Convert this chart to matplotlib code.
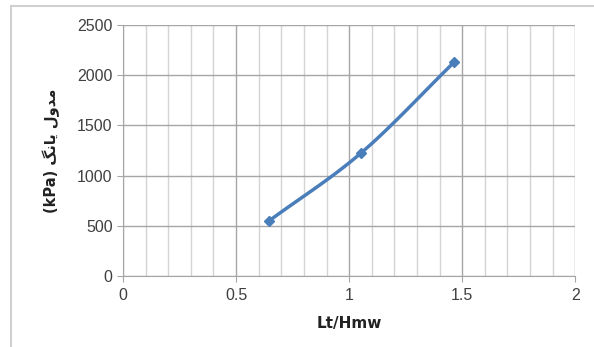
import numpy as np
import matplotlib.pyplot as plt
from matplotlib.lines import Line2D
from matplotlib.ticker import MultipleLocator

# ratio Lt/Hmw vs Young's modulus (kPa)
ratio = [0.646, 1.053, 1.465]
modulus = [548, 1225, 2131]

# Persian label written in presentation forms, visual order (no shaping in mpl)
word_modulus = "\uFEDD\uFEED\uFEAA\uFEE3"   # مدول
word_young = "\uFB93\uFEE7\uFE8E\uFBFE"     # یانگ
ylabel = "(kPa) " + word_young + " " + word_modulus


def smooth_curve(x, y, n=40):
    # Catmull-Rom style smoothing, like a spreadsheet "smoothed line"
    x = np.asarray(x, float)
    y = np.asarray(y, float)
    px = np.concatenate([[2 * x[0] - x[1]], x, [2 * x[-1] - x[-2]]])
    py = np.concatenate([[2 * y[0] - y[1]], y, [2 * y[-1] - y[-2]]])
    xs, ys = [], []
    t = np.linspace(0, 1, n)
    for i in range(1, len(px) - 2):
        p0, p1, p2, p3 = [np.array([px[j], py[j]]) for j in range(i - 1, i + 3)]
        c1 = p1 + (p2 - p0) / 6
        c2 = p2 - (p3 - p1) / 6
        pts = ((1 - t) ** 3)[:, None] * p1 + (3 * (1 - t) ** 2 * t)[:, None] * c1 \
            + (3 * (1 - t) * t ** 2)[:, None] * c2 + (t ** 3)[:, None] * p2
        xs.extend(pts[:, 0])
        ys.extend(pts[:, 1])
    return xs, ys


fig = plt.figure(figsize=(5.94, 3.47), dpi=100)
ax = fig.add_axes([0.207, 0.205, 0.7615, 0.723])

# outer chart frame (top and left edges)
fig.add_artist(Line2D([12 / 594, 1.0], [1 - 6 / 347, 1 - 6 / 347],
                      transform=fig.transFigure, color='#d0d0d0', lw=1.5))
fig.add_artist(Line2D([11 / 594, 11 / 594], [0, 1 - 6 / 347],
                      transform=fig.transFigure, color='#d0d0d0', lw=1.5))

ax.set_xlim(0, 2)
ax.set_ylim(0, 2500)
ax.xaxis.set_major_locator(MultipleLocator(0.5))
ax.xaxis.set_minor_locator(MultipleLocator(0.1))
ax.yaxis.set_major_locator(MultipleLocator(500))
ax.grid(which='minor', axis='x', color='#d4d4d4', lw=1)
ax.grid(which='major', axis='x', color='#a6a6a6', lw=1)
ax.grid(which='major', axis='y', color='#a6a6a6', lw=1)
ax.set_axisbelow(True)

for side in ['top', 'right']:
    ax.spines[side].set_visible(False)
ax.spines['left'].set_color('#a6a6a6')
ax.spines['bottom'].set_color('#a6a6a6')
ax.tick_params(which='both', length=4, color='#a6a6a6', labelsize=11.5,
               labelcolor='#404040')
ax.tick_params(axis='x', which='minor', length=0)
ax.tick_params(axis='x', pad=5)
ax.xaxis.set_major_formatter(plt.FuncFormatter(lambda v, p: f'{v:g}'))

for lab in ax.get_xticklabels() + ax.get_yticklabels():
    lab.set_fontfamily('Liberation Sans')

sx, sy = smooth_curve(ratio, modulus)
ax.plot(sx, sy, color='#4a7ebb', lw=2.5, solid_capstyle='round', zorder=3)
ax.plot(ratio, modulus, 'D', color='#4a7ebb', ms=5.5, zorder=4)

ax.set_xlabel('Lt/Hmw', fontsize=11, fontweight='bold', color='#222222',
              labelpad=9)
ax.set_ylabel(ylabel, fontsize=10.5, fontweight='bold', color='#222222',
              family=['DejaVu Sans'], labelpad=12)

fig.savefig('out.png', dpi=100)
